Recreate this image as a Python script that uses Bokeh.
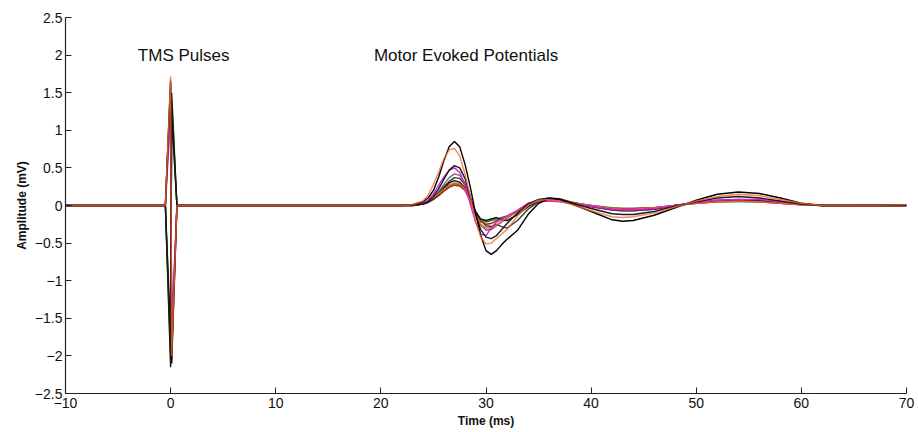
from bokeh.plotting import figure
from bokeh.models import FixedTicker, Label
from bokeh.embed import file_html
from bokeh.resources import INLINE

# ---- data ----
t_ms = [-10, -0.5, 0.0, 0.1, 0.6, 22, 23, 24, 24.5, 25, 25.5, 26, 26.5, 27, 27.5, 28, 28.5,
        29, 29.5, 30, 30.5, 31, 31.5, 32, 33, 34, 35, 36, 37, 38, 40, 42, 43, 44, 46, 48,
        50, 52, 54, 56, 58, 60, 62, 65, 70]

gray1 = [0, 0, -1.9, 1.3, 0, 0, 0, 0.02, 0.05, 0.1, 0.18, 0.28, 0.37, 0.42, 0.4, 0.3, 0.1,
         -0.1, -0.26, -0.33, -0.32, -0.27, -0.22, -0.17, -0.08, 0.02, 0.07, 0.09, 0.07, 0.04, -0.02, -0.06, -0.07, -0.07,
         -0.05, 0.0, 0.04, 0.06, 0.07, 0.06, 0.04, 0.02, 0, 0, 0]
gray2 = [0, 0, 1.5, -1.8, 0, 0, 0.01, 0.03, 0.06, 0.1, 0.17, 0.25, 0.32, 0.37, 0.36, 0.28, 0.1,
         -0.08, -0.2, -0.27, -0.28, -0.25, -0.28, -0.3, -0.2, -0.05, 0.05, 0.1, 0.09, 0.05, -0.01, -0.06, -0.07, -0.07,
         -0.05, 0.0, 0.04, 0.07, 0.08, 0.07, 0.04, 0.02, 0, 0, 0]
green = [0, 0, -2.05, 1.4, 0, 0, 0, 0.02, 0.04, 0.08, 0.14, 0.2, 0.26, 0.29, 0.28, 0.22, 0.08,
         -0.08, -0.2, -0.22, -0.2, -0.18, -0.16, -0.14, -0.08, 0.0, 0.05, 0.07, 0.06, 0.04, 0.0, -0.03, -0.04, -0.04,
         -0.03, 0.0, 0.03, 0.05, 0.05, 0.05, 0.03, 0.01, 0, 0, 0]
darkred = [0, 0, 1.6, -1.9, 0, 0, 0, 0.02, 0.04, 0.08, 0.13, 0.19, 0.24, 0.27, 0.26, 0.2, 0.06,
           -0.1, -0.21, -0.25, -0.24, -0.2, -0.17, -0.14, -0.07, 0.01, 0.05, 0.07, 0.06, 0.04, 0.0, -0.04, -0.04, -0.04,
           -0.03, 0.0, 0.03, 0.05, 0.06, 0.05, 0.03, 0.01, 0, 0, 0]
black3 = [0, 0, -1.7, 1.2, 0, 0, 0.01, 0.02, 0.05, 0.09, 0.16, 0.23, 0.3, 0.33, 0.31, 0.24, 0.08,
          -0.08, -0.18, -0.2, -0.18, -0.16, -0.19, -0.2, -0.12, -0.02, 0.06, 0.09, 0.08, 0.04, -0.01, -0.05, -0.06, -0.06,
          -0.04, 0.0, 0.04, 0.06, 0.07, 0.06, 0.04, 0.02, 0, 0, 0]
orange2 = [0, 0, 1.68, -2.05, 0, 0, 0.01, 0.03, 0.06, 0.1, 0.16, 0.22, 0.27, 0.3, 0.29, 0.22, 0.06,
           -0.12, -0.25, -0.3, -0.3, -0.26, -0.21, -0.16, -0.07, 0.02, 0.06, 0.07, 0.06, 0.04, 0.0, -0.04, -0.05, -0.05,
           -0.03, 0.0, 0.03, 0.05, 0.06, 0.05, 0.03, 0.01, 0, 0, 0]
magenta = [0, 0, 1.2, -1.6, 0, 0, 0, 0.03, 0.07, 0.15, 0.27, 0.38, 0.47, 0.5, 0.44, 0.28, 0.02,
           -0.22, -0.38, -0.4, -0.3, -0.22, -0.18, -0.14, -0.06, 0.03, 0.06, 0.06, 0.05, 0.03, -0.01, -0.05, -0.06, -0.06,
           -0.04, 0.0, 0.04, 0.07, 0.08, 0.08, 0.05, 0.02, 0, 0, 0]
black2 = [0, 0, -2.15, 1.5, 0, 0, 0, 0.02, 0.05, 0.12, 0.22, 0.35, 0.47, 0.53, 0.5, 0.36, 0.12,
          -0.12, -0.32, -0.42, -0.44, -0.4, -0.32, -0.24, -0.1, 0.02, 0.08, 0.1, 0.08, 0.04, -0.04, -0.11, -0.12, -0.12,
          -0.08, -0.01, 0.05, 0.1, 0.12, 0.1, 0.06, 0.02, 0, 0, 0]
black1 = [0, 0, 1.65, -2.1, 0, 0, 0.01, 0.05, 0.1, 0.2, 0.38, 0.6, 0.78, 0.85, 0.78, 0.55, 0.25,
          -0.1, -0.4, -0.6, -0.65, -0.6, -0.52, -0.45, -0.33, -0.12, 0.03, 0.09, 0.08, 0.03, -0.08, -0.19, -0.21, -0.2,
          -0.13, -0.03, 0.07, 0.15, 0.18, 0.16, 0.1, 0.03, 0, 0, 0.01]
orange1 = [0, 0, 1.72, -2.0, 0, 0, 0.01, 0.06, 0.14, 0.28, 0.45, 0.62, 0.74, 0.76, 0.66, 0.42, 0.12,
           -0.2, -0.42, -0.51, -0.5, -0.44, -0.38, -0.32, -0.14, 0.0, 0.07, 0.08, 0.06, 0.02, -0.07, -0.15, -0.16, -0.15,
           -0.1, -0.02, 0.06, 0.12, 0.15, 0.13, 0.08, 0.03, 0, 0, 0.01]

traces = [gray1, gray2, green, darkred, black3, orange2, magenta, black2, black1, orange1]
colors = ["#6e6e6e", "#3a3a3a", "#2f8a2f", "#a3261c", "#111111", "#e8622a", "#d91fd9", "#1a1a1a",
          "#000000", "#ef6a2c"]
alphas = [1, 1, 1, 1, 1, 1, 1, 1, 1, 0.8]

x_ticks = [-10, 0, 10, 20, 30, 40, 50, 60, 70]
x_labels = ["\u221210", "0", "10", "20", "30", "40", "50", "60", "70"]
y_ticks = [-2.5, -2, -1.5, -1, -0.5, 0, 0.5, 1, 1.5, 2, 2.5]
y_labels = ["\u22122.5", "\u22122", "\u22121.5", "\u22121", "\u22120.5", "0", "0.5", "1", "1.5", "2", "2.5"]

annotations = [(1.24, 2.0, "TMS Pulses"), (28.1, 2.0, "Motor Evoked Potentials")]

FONT = "Liberation Sans"

p = figure(width=918, height=432, x_range=(-10, 70), y_range=(-2.5, 2.5),
           output_backend="svg", toolbar_location=None,
           min_border_left=65, min_border_right=12, min_border_top=17, min_border_bottom=39)
p.background_fill_color = "white"
p.border_fill_color = "white"
p.outline_line_color = None
p.xgrid.visible = False
p.ygrid.visible = False

for ys, c, a in zip(traces, colors, alphas):
    p.line(t_ms, ys, line_color=c, line_width=1.4, line_alpha=a)

for ax, ticks, labels in ((p.xaxis[0], x_ticks, x_labels), (p.yaxis[0], y_ticks, y_labels)):
    ax.ticker = FixedTicker(ticks=ticks)
    ax.major_label_overrides = {k: v for k, v in zip(ticks, labels)}
    ax.major_tick_in = 6
    ax.major_tick_out = 0
    ax.minor_tick_line_color = None
    ax.axis_line_color = "#222222"
    ax.axis_line_width = 1.2
    ax.major_tick_line_color = "#222222"
    ax.major_label_text_font = FONT
    ax.major_label_text_font_size = "14px"
    ax.major_label_text_color = "#111111"
    ax.axis_label_text_font = FONT
    ax.axis_label_text_font_size = "12px"
    ax.axis_label_text_font_style = "bold"
    ax.axis_label_text_color = "#111111"
    ax.axis_label_standoff = 3

p.xaxis.axis_label = "Time (ms)"
p.yaxis.axis_label = "Amplitude (mV)"
p.xaxis.major_label_standoff = 4
p.yaxis.major_label_standoff = 3

for x, y, s in annotations:
    p.add_layout(Label(x=x, y=y, text=s, text_align="center", text_baseline="middle",
                       text_font=FONT, text_font_size="17px", text_color="#111111"))

open("out.html", "w").write(file_html(p, INLINE))
